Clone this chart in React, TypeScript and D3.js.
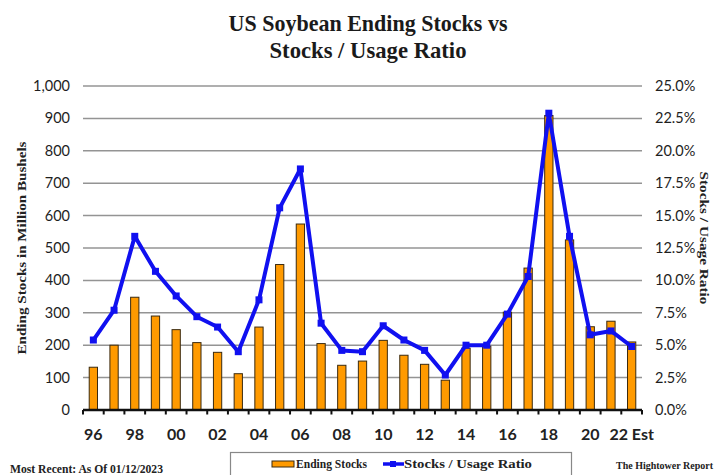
import React from "react";
import * as d3 from "d3";

// Marketing years (1996/97 .. 2022/23 est.)
const years: number[] = [
  1996, 1997, 1998, 1999, 2000, 2001, 2002, 2003, 2004, 2005, 2006, 2007, 2008, 2009,
  2010, 2011, 2012, 2013, 2014, 2015, 2016, 2017, 2018, 2019, 2020, 2021, 2022,
];

// US soybean ending stocks, million bushels
const endingStocks: number[] = [
  132, 200, 348, 290, 248, 208, 178, 112, 256, 449, 574, 205, 138, 151,
  215, 169, 141, 92, 191, 197, 302, 438, 909, 525, 257, 274, 210,
];

// Stocks / usage ratio, percent
const stocksUsage: number[] = [
  5.4, 7.7, 13.4, 10.7, 8.8, 7.2, 6.4, 4.5, 8.5, 15.6, 18.6, 6.7, 4.6, 4.5,
  6.5, 5.4, 4.6, 2.7, 5.0, 5.0, 7.4, 10.3, 22.9, 13.4, 5.8, 6.1, 4.9,
];

// Category labels shown under the axis (every other year)
const xLabels: { year: number; text: string }[] = [
  { year: 1996, text: "96" },
  { year: 1998, text: "98" },
  { year: 2000, text: "00" },
  { year: 2002, text: "02" },
  { year: 2004, text: "04" },
  { year: 2006, text: "06" },
  { year: 2008, text: "08" },
  { year: 2010, text: "10" },
  { year: 2012, text: "12" },
  { year: 2014, text: "14" },
  { year: 2016, text: "16" },
  { year: 2018, text: "18" },
  { year: 2020, text: "20" },
  { year: 2022, text: "22 Est" },
];

const leftTicks: number[] = [0, 100, 200, 300, 400, 500, 600, 700, 800, 900, 1000];
const rightTicks: number[] = [0, 2.5, 5, 7.5, 10, 12.5, 15, 17.5, 20, 22.5, 25];

const W = 725;
const H = 475;
const plot = { left: 83, right: 642, top: 86, bottom: 410 };

const SERIF = "'Liberation Serif', 'DejaVu Serif', serif";
const SANS = "Lato, 'Open Sans', 'Noto Sans', sans-serif";

export default function App() {
  const x = d3
    .scaleBand<number>()
    .domain(years)
    .range([plot.left, plot.right])
    .paddingInner(0.6)
    .paddingOuter(0.3);

  const yLeft = d3.scaleLinear().domain([0, 1000]).range([plot.bottom, plot.top]);
  const yRight = d3.scaleLinear().domain([0, 25]).range([plot.bottom, plot.top]);

  const step = x.step();
  const x0 = (x(years[0]) as number) - step * 0.3;
  const center = (yr: number) => (x(yr) as number) + x.bandwidth() / 2;

  const line = d3
    .line<number>()
    .x((_, i) => center(years[i]))
    .y((v) => yRight(v));

  const fmtLeft = d3.format(",");
  const fmtRight = (v: number) => d3.format(".1f")(v) + "%";

  return (
    <svg
      width={W}
      height={H}
      viewBox={`0 0 ${W} ${H}`}
      style={{ position: "absolute", left: 0, top: 0, background: "#fff" }}
    >
      {/* Title */}
      <g fontFamily={SERIF} fontWeight="bold" fill="#1a1a1a" textAnchor="middle">
        <text x={368} y={31} fontSize={24} textLength={279} lengthAdjust="spacingAndGlyphs">
          US Soybean Ending Stocks vs
        </text>
        <text x={368} y={58} fontSize={24} textLength={197} lengthAdjust="spacingAndGlyphs">
          Stocks / Usage Ratio
        </text>
      </g>

      {/* Gridlines */}
      <g stroke="#949494" strokeWidth={1.5}>
        {leftTicks
          .filter((t) => t > 0)
          .map((t) => (
            <line key={t} x1={plot.left} x2={plot.right} y1={yLeft(t)} y2={yLeft(t)} />
          ))}
      </g>

      {/* Left axis labels */}
      <g fontFamily={SANS} fontSize={14.5} fill="#1e1e1e" textAnchor="end">
        {leftTicks.map((t) => (
          <text key={t} x={70} y={yLeft(t)} dy="0.35em">
            {fmtLeft(t)}
          </text>
        ))}
      </g>

      {/* Right axis labels */}
      <g fontFamily={SANS} fontSize={14.5} fill="#1e1e1e" textAnchor="start">
        {rightTicks.map((t) => (
          <text key={t} x={655} y={yRight(t)} dy="0.35em">
            {fmtRight(t)}
          </text>
        ))}
      </g>

      {/* Axis titles */}
      <text
        transform={`translate(26, ${248}) rotate(-90)`}
        textAnchor="middle"
        fontFamily={SERIF}
        fontWeight="bold"
        fontSize={12}
        fill="#222"
        textLength={213}
        lengthAdjust="spacingAndGlyphs"
      >
        Ending Stocks in Million Bushels
      </text>
      <text
        transform={`translate(700, ${238}) rotate(90)`}
        textAnchor="middle"
        fontFamily={SERIF}
        fontWeight="bold"
        fontSize={12}
        fill="#222"
        textLength={133}
        lengthAdjust="spacingAndGlyphs"
      >
        Stocks / Usage Ratio
      </text>

      {/* Bars */}
      <g fill="#ff9a00" stroke="#3a2a10" strokeWidth={1}>
        {years.map((yr, i) => (
          <rect
            key={yr}
            x={x(yr)}
            y={yLeft(endingStocks[i])}
            width={x.bandwidth()}
            height={plot.bottom - yLeft(endingStocks[i])}
          />
        ))}
      </g>

      {/* Category axis */}
      <g stroke="#111">
        <line x1={plot.left} x2={plot.right} y1={plot.bottom} y2={plot.bottom} strokeWidth={2.5} />
        {d3.range(years.length + 1).map((i) => (
          <line
            key={i}
            x1={x0 + i * step}
            x2={x0 + i * step}
            y1={plot.bottom}
            y2={plot.bottom + 4.5}
            strokeWidth={2}
          />
        ))}
      </g>
      <g fontFamily={SANS} fontSize={16} fontWeight="bold" fill="#222" textAnchor="middle">
        {xLabels.map((l) => (
          <text key={l.year} x={center(l.year)} y={440}>
            {l.text}
          </text>
        ))}
      </g>

      {/* Stocks / usage ratio line */}
      <path d={line(stocksUsage) || ""} fill="none" stroke="#1010f0" strokeWidth={4} strokeLinejoin="round" />
      <g fill="#1010f0">
        {years.map((yr, i) => (
          <rect key={yr} x={center(yr) - 3.5} y={yRight(stocksUsage[i]) - 3.5} width={7} height={7} />
        ))}
      </g>

      {/* Footer */}
      <text
        x={10}
        y={473}
        fontFamily={SERIF}
        fontWeight="bold"
        fontSize={11.5}
        fill="#222"
        textLength={153}
        lengthAdjust="spacingAndGlyphs"
      >
        Most Recent: As Of 01/12/2023
      </text>
      <text x={616} y={469} fontFamily={SERIF} fontSize={10} fontWeight="bold" fill="#222">
        The Hightower Report
      </text>

      {/* Legend */}
      <rect x={230.5} y={452.5} width={341} height={30} fill="#fff" stroke="#888" strokeWidth={1.2} />
      <rect x={272} y={461} width={22} height={6} fill="#ff9a00" stroke="#3a2a10" strokeWidth={1} />
      <text
        x={296}
        y={468}
        fontFamily={SERIF}
        fontWeight="bold"
        fontSize={11.5}
        fill="#222"
        textLength={71}
        lengthAdjust="spacingAndGlyphs"
      >
        Ending Stocks
      </text>
      <line x1={383} x2={404} y1={464} y2={464} stroke="#1010f0" strokeWidth={3.5} />
      <rect x={390} y={461} width={6} height={6} fill="#1010f0" />
      <text
        x={404}
        y={468}
        fontFamily={SERIF}
        fontWeight="bold"
        fontSize={11.5}
        fill="#222"
        textLength={128}
        lengthAdjust="spacingAndGlyphs"
      >
        Stocks / Usage Ratio
      </text>
    </svg>
  );
}
